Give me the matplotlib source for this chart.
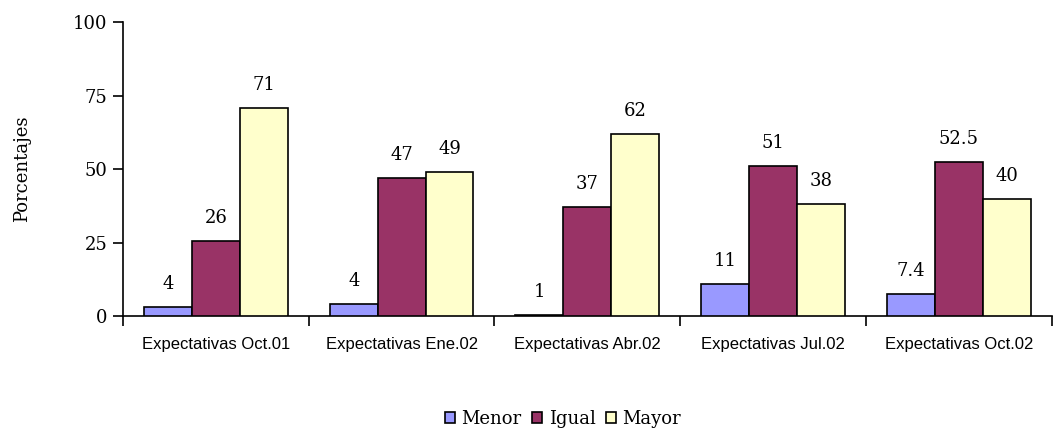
import matplotlib.pyplot as plt
import numpy as np

categories = ["Expectativas Oct.01", "Expectativas Ene.02", "Expectativas Abr.02",
              "Expectativas Jul.02", "Expectativas Oct.02"]
series = ["Menor", "Igual", "Mayor"]
# bar heights
menor = [3.2, 4.1, 0.5, 11, 7.4]
igual = [25.7, 47, 37, 51, 52.5]
mayor = [70.8, 49, 62, 38, 40]
# printed labels
menor_lbl = ["4", "4", "1", "11", "7.4"]
igual_lbl = ["26", "47", "37", "51", "52.5"]
mayor_lbl = ["71", "49", "62", "38", "40"]
yticks = [0, 25, 50, 75, 100]

colors = ["#9999FF", "#993366", "#FFFFCC"]
serif = "DejaVu Serif"
fs = 13

fig = plt.figure(figsize=(10.53, 4.32), dpi=100)
ax = fig.add_axes([0.1168, 0.2685, 0.882, 0.680])

x = np.arange(len(categories))
w = 0.258
data = [menor, igual, mayor]
labels = [menor_lbl, igual_lbl, mayor_lbl]
for i in range(3):
    pos = x + (i - 1) * w
    ax.bar(pos, data[i], w, color=colors[i], edgecolor="black", linewidth=1.2,
           label=series[i], zorder=3)
    for p, v, t in zip(pos, data[i], labels[i]):
        ax.annotate(t, (p, v), xytext=(0, 10), textcoords="offset points",
                    ha="center", va="bottom", fontsize=fs, family=serif)

ax.set_xlim(-0.5, len(categories) - 0.5)
ax.set_ylim(0, 100)
ax.set_yticks(yticks)
ax.set_yticklabels([str(t) for t in yticks], fontsize=fs, family=serif)
ax.set_xticks(x)
ax.set_xticklabels(categories, fontsize=12, family="Liberation Sans")
ax.tick_params(axis="x", length=0, pad=15)
ax.set_xticks(np.arange(len(categories) + 1) - 0.5, minor=True)
ax.tick_params(axis="x", which="minor", length=7, width=1.2, direction="out")
ax.tick_params(axis="y", length=7, width=1.2, direction="out", pad=4)
for s in ["top", "right"]:
    ax.spines[s].set_visible(False)
for s in ["left", "bottom"]:
    ax.spines[s].set_linewidth(1.2)

ax.set_ylabel("Porcentajes", fontsize=fs, family=serif, labelpad=30)

ax.legend(loc="center", bbox_to_anchor=(0.474, -0.35), ncol=3, frameon=False,
          prop={"family": serif, "size": fs}, handlelength=0.55, handleheight=0.55,
          handletextpad=0.35, columnspacing=0.6)

fig.savefig("out.png")
